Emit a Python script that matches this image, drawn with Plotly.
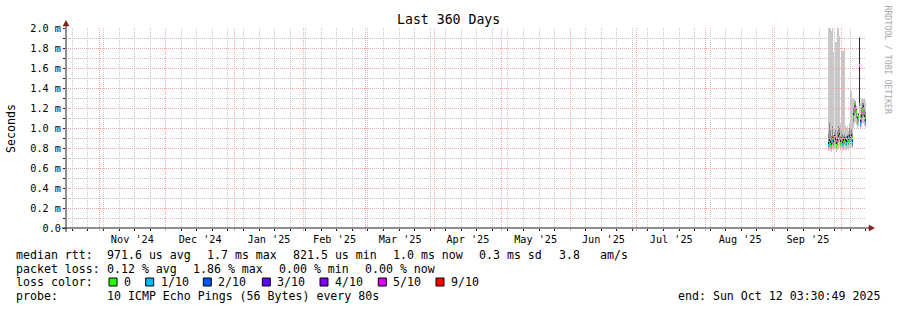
import pandas as pd
import plotly.graph_objects as go

# ---------------- data ----------------
range_start = "2024-10-17 03:30:49"
range_end = "2025-10-12 03:30:49"
first_sample = "2025-09-25 01:06:49"
step_minutes = 648  # RRD consolidation step (one pixel of a 360 day graph)

median_ms = [0.83, 0.86, 0.84, 0.82, 0.88, 0.85, 0.90, 0.87, 0.83, 0.86,
             0.90, 0.92, 0.85, 0.88, 0.84, 0.86, 0.88, 0.86, 0.85, 0.89,
             0.87, 0.90, 0.88, 0.91, 0.85, 1.12, 1.20, 1.25, 1.17, 1.08,
             1.12, 1.63, 1.05, 1.10, 1.18, 1.20, 1.10, 1.06]
loss_idx = [1, 1, 0, 0, 1, 1, 1, 0, 0, 1,
            0, 0, 0, 0, 1, 0, 0, 0, 1, 0,
            0, 0, 1, 0, 1, 0, 1, 0, 0, 0,
            0, 1, 1, 0, 0, 0, 0, 1]
ping_min_ms = [0.77, 0.78, 0.77, 0.76, 0.79, 0.78, 0.80, 0.79, 0.76, 0.78,
               0.80, 0.81, 0.78, 0.79, 0.77, 0.78, 0.79, 0.78, 0.77, 0.79,
               0.78, 0.80, 0.79, 0.81, 0.79, 1.00, 1.04, 1.06, 1.03, 1.00,
               1.02, 1.15, 0.99, 1.01, 1.04, 1.05, 1.02, 1.00]
ping_max_ms = [2.10, 2.10, 2.10, 1.97, 2.10, 1.76, 1.00, 1.86, 1.86, 2.10,
               2.10, 1.92, 1.05, 1.78, 1.77, 1.77, 1.79, 1.02, 1.00, 1.02,
               0.98, 1.05, 1.37, 1.37, 1.29, 1.29, 1.29, 1.22, 1.22, 1.15,
               1.15, 1.92, 1.25, 1.29, 1.29, 1.29, 1.30, 1.27]
mid_lo_ms = [0.80, 0.82, 0.81, 0.79, 0.84, 0.82, 0.86, 0.84, 0.80, 0.83,
             0.86, 0.88, 0.82, 0.84, 0.81, 0.83, 0.84, 0.83, 0.82, 0.85,
             0.83, 0.86, 0.84, 0.87, 0.82, 1.06, 1.12, 1.15, 1.09, 1.04,
             1.06, 1.22, 1.01, 1.05, 1.10, 1.12, 1.06, 1.03]
mid_hi_ms = [0.95, 1.05, 0.98, 0.92, 1.02, 0.93, 0.96, 0.98, 0.90, 0.97,
             1.02, 1.00, 0.92, 0.98, 0.94, 0.92, 0.94, 0.91, 0.92, 0.93,
             0.94, 1.00, 0.98, 0.99, 0.94, 1.20, 1.25, 1.27, 1.20, 1.12,
             1.15, 1.90, 1.14, 1.20, 1.25, 1.25, 1.20, 1.16]
core_lo_ms = [0.82, 0.85, 0.83, 0.81, 0.87, 0.84, 0.89, 0.86, 0.82, 0.85,
              0.89, 0.91, 0.84, 0.87, 0.83, 0.85, 0.87, 0.85, 0.84, 0.88,
              0.86, 0.89, 0.87, 0.90, 0.84, 1.10, 1.18, 1.22, 1.15, 1.06,
              1.10, 1.25, 1.04, 1.08, 1.16, 1.18, 1.08, 1.05]
core_hi_ms = [0.86, 0.89, 0.87, 0.85, 0.91, 0.88, 0.93, 0.90, 0.86, 0.89,
              0.93, 0.95, 0.88, 0.91, 0.87, 0.89, 0.91, 0.89, 0.88, 0.92,
              0.90, 0.93, 0.91, 0.94, 0.88, 1.15, 1.22, 1.26, 1.19, 1.11,
              1.14, 1.90, 1.08, 1.13, 1.21, 1.23, 1.13, 1.09]

y_tick_vals = [0.0, 0.2, 0.4, 0.6, 0.8, 1.0, 1.2, 1.4, 1.6, 1.8, 2.0]
y_tick_text = ["0.0", "0.2 m", "0.4 m", "0.6 m", "0.8 m", "1.0 m",
               "1.2 m", "1.4 m", "1.6 m", "1.8 m", "2.0 m"]

loss_labels = ["0", "1/10", "2/10", "3/10", "4/10", "5/10", "9/10"]
loss_colors = ["#26ff00", "#00b8ff", "#0059ff", "#5e00ff", "#7e00ff", "#dd00ff", "#ff0000"]

title_text = "Last 360 Days"
y_title = "Seconds"
rtt_items = ["median rtt:", "971.6 us avg", "1.7 ms max", "821.5 us min",
             "1.0 ms now", "0.3 ms sd", "3.8", "am/s"]
loss_items = ["packet loss:", "0.12 % avg", "1.86 % max", "0.00 % min", "0.00 % now"]
probe_items = ["probe:", "10 ICMP Echo Pings (56 Bytes) every 80s"]
end_text = "end: Sun Oct 12 03:30:49 2025"
watermark = "RRDTOOL / TOBI OETIKER"

# ---------------- layout geometry (pixels) ----------------
W, H = 897, 310
PL, PR, PT, PB = 66, 866, 28, 228          # plot box
MONO = "DejaVu Sans Mono"
GRID_GRAY = "#c4c4c4"
GRID_RED = "#f0a6a6"
AXIS_COL = "#1f1f1f"
ARROW_COL = "#801f1f"


def px(x):
    return (x - PL) / (PR - PL)


def py(y):
    return (PB - y) / (PB - PT)


def solid(hex_color):
    # near-opaque rgba so plotly snaps the 1px bars to whole pixels
    h = hex_color.lstrip("#")
    r, g, b = int(h[0:2], 16), int(h[2:4], 16), int(h[4:6], 16)
    return f"rgba({r},{g},{b},0.999)"


times = pd.date_range(first_sample, periods=len(median_ms), freq=f"{step_minutes}min")
bar_w = step_minutes * 60 * 1000

fig = go.Figure()


def band(lo, hi, color):
    fig.add_trace(go.Bar(
        x=times, base=lo, y=[h - l for l, h in zip(lo, hi)],
        width=bar_w, offset=0,
        marker=dict(color=solid(color), line=dict(width=0)),
        hoverinfo="skip", showlegend=False, xaxis="x", yaxis="y"))


band(ping_min_ms, ping_max_ms, "#c8c8c8")
band(mid_lo_ms, mid_hi_ms, "#8c8c8c")
band(core_lo_ms, core_hi_ms, "#2a2a2a")

half = 0.015
fig.add_trace(go.Bar(
    x=times, base=[m - half for m in median_ms], y=[2 * half] * len(median_ms),
    width=bar_w, offset=0,
    marker=dict(color=[solid(loss_colors[i]) for i in loss_idx], line=dict(width=0)),
    hoverinfo="skip", showlegend=False, xaxis="x", yaxis="y"))

# invisible anchor for the grid/axis subplot drawn above the data
fig.add_trace(go.Scatter(x=[range_start], y=[0], mode="markers",
                         marker=dict(opacity=0), hoverinfo="skip",
                         showlegend=False, xaxis="x2", yaxis="y2"))

annotations = []


def text(t, x, y, size=11.6, anchor="left", color="#000000", angle=0):
    annotations.append(dict(
        text=t, x=px(x), y=py(y), xref="paper", yref="paper",
        xanchor=anchor, yanchor="middle", showarrow=False,
        font=dict(family=MONO, size=size, color=color),
        borderpad=0, textangle=angle))


text(title_text, 448, 19.5, size=13.2, anchor="center")
text(y_title, 11, 128, anchor="center", angle=-90)
text(watermark, 887.5, 60, size=8.2, anchor="center", color="#a8a8a8", angle=90)

rtt_x = [16, 107, 206.7, 293.3, 393.3, 479, 559, 600]
for t, x in zip(rtt_items, rtt_x):
    text(t, x - 1, 254.5)
loss_x = [16, 107, 193.3, 279.3, 365]
for t, x in zip(loss_items, loss_x):
    text(t, x - 1, 268.5)
text("loss color:", 15, 282)
sq_x = [109, 145.7, 203.3, 262.3, 320, 378.3, 436]
shapes = []
for lab, col, x in zip(loss_labels, loss_colors, sq_x):
    shapes.append(dict(type="rect", xref="paper", yref="paper",
                       x0=px(x), x1=px(x + 8), y0=py(286), y1=py(278),
                       fillcolor=col, line=dict(color="#000000", width=1)))
    text(lab, x + 14, 282)
probe_x = [16, 107]
for t, x in zip(probe_items, probe_x):
    text(t, x - 1, 296)
text(end_text, 880.5, 296, anchor="right")

# axis extensions and arrow heads
shapes.append(dict(type="line", xref="paper", yref="paper",
                   x0=px(66), x1=px(66), y0=py(232), y1=py(24),
                   line=dict(color=AXIS_COL, width=1)))
shapes.append(dict(type="line", xref="paper", yref="paper",
                   x0=px(62), x1=px(870), y0=py(228), y1=py(228),
                   line=dict(color=AXIS_COL, width=1)))
shapes.append(dict(type="path", xref="paper", yref="paper",
                   path=f"M {px(63)} {py(26)} L {px(69)} {py(26)} L {px(66)} {py(20.5)} Z",
                   fillcolor=ARROW_COL, line=dict(color=ARROW_COL, width=0.5)))
shapes.append(dict(type="path", xref="paper", yref="paper",
                   path=f"M {px(869)} {py(225)} L {px(869)} {py(231)} L {px(874.5)} {py(228)} Z",
                   fillcolor=ARROW_COL, line=dict(color=ARROW_COL, width=0.5)))

fig.update_layout(
    width=W, height=H,
    margin=dict(l=PL, r=W - PR, t=PT, b=H - PB, pad=0),
    paper_bgcolor="#ffffff", plot_bgcolor="rgba(0,0,0,0)",
    barmode="overlay", bargap=0, bargroupgap=0, showlegend=False,
    xaxis=dict(type="date", range=[range_start, range_end], visible=False,
               domain=[0, 1], anchor="y"),
    yaxis=dict(range=[0, 2], visible=False, domain=[0, 1], anchor="x"),
    xaxis2=dict(type="date", range=[range_start, range_end], anchor="y2",
                domain=[0, 1],
                dtick="M1", tick0="2024-11-01", ticklabelmode="period",
                tickformat="%b '%y",
                tickfont=dict(family=MONO, size=10.2, color="#000000"),
                ticks="outside", ticklen=2, tickcolor=GRID_RED, tickwidth=1,
                showgrid=True, gridcolor=GRID_RED, griddash="1px,1px", gridwidth=1,
                minor=dict(dtick=7 * 86400000, tick0="2024-10-20",
                           showgrid=True, gridcolor=GRID_GRAY, griddash="1px,1px",
                           ticks="outside", ticklen=2, tickcolor=AXIS_COL),
                showline=False, zeroline=False, fixedrange=True),
    yaxis2=dict(range=[0, 2], anchor="x2", domain=[0, 1],
                tickmode="array", tickvals=y_tick_vals, ticktext=y_tick_text,
                tickfont=dict(family=MONO, size=10.2, color="#000000"),
                ticks="outside", ticklen=2, tickcolor=AXIS_COL,
                showgrid=True, gridcolor=GRID_RED, griddash="1px,1px", gridwidth=1,
                minor=dict(tickmode="linear", dtick=0.1, tick0=0, showgrid=True,
                           gridcolor=GRID_GRAY, griddash="1px,1px", ticks="outside",
                           ticklen=2, tickcolor=AXIS_COL),
                showline=False, zeroline=False, fixedrange=True),
    annotations=annotations, shapes=shapes,
)

fig.write_html("out.html")
